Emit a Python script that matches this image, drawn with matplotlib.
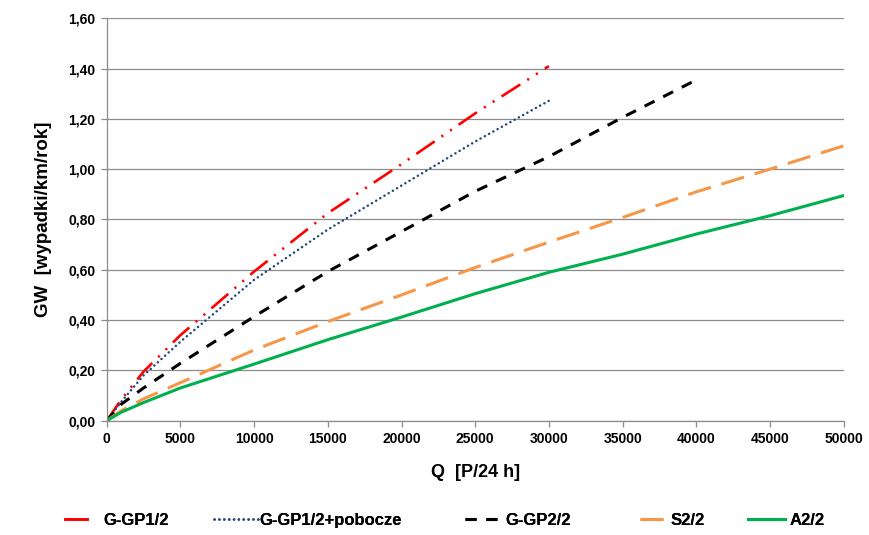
import matplotlib
matplotlib.use("Agg")
import matplotlib.pyplot as plt
from matplotlib.lines import Line2D
from matplotlib.ticker import FuncFormatter, MultipleLocator

plt.rcParams['font.family'] = ['Liberation Sans', 'DejaVu Sans']
plt.rcParams['font.weight'] = 'bold'
plt.rcParams['lines.scale_dashes'] = False

# Q [P/24 h] values
q_30 = [0, 1000, 2500, 5000, 10000, 15000, 20000, 25000, 30000]
q_40 = [0, 1000, 2500, 5000, 10000, 15000, 20000, 25000, 30000, 35000, 40000]
q_50 = [0, 1000, 2500, 5000, 10000, 15000, 20000, 25000, 30000, 35000, 40000, 45000, 50000]

ggp12 = [0, 0.085, 0.195, 0.34, 0.593, 0.825, 1.02, 1.222, 1.41]
ggp12_pob = [0, 0.076, 0.18, 0.314, 0.56, 0.76, 0.935, 1.11, 1.272]
ggp22 = [0, 0.066, 0.13, 0.228, 0.414, 0.593, 0.752, 0.912, 1.05, 1.206, 1.355]
s22 = [0, 0.04, 0.087, 0.151, 0.281, 0.394, 0.50, 0.609, 0.71, 0.808, 0.91, 1.0, 1.093]
a22 = [0, 0.034, 0.072, 0.13, 0.225, 0.322, 0.412, 0.505, 0.59, 0.662, 0.742, 0.815, 0.895]

labels = ['G-GP1/2', 'G-GP1/2+pobocze', 'G-GP2/2', 'S2/2', 'A2/2']

fig = plt.figure(figsize=(8.69, 5.35), dpi=100)
ax = fig.add_axes([0.1228, 0.2137, 0.8481, 0.7521])

lines = []
lines += ax.plot(q_30, ggp12, color='#FF0000', lw=1.9,
                 linestyle=(0, (16, 6, 1.5, 6, 1.5, 6)))
lines += ax.plot(q_30, ggp12_pob, color='#1F497D', lw=1.8,
                 linestyle=(0, (0.1, 3.4)), dash_capstyle='round')
lines += ax.plot(q_40, ggp22, color='#000000', lw=2.2, linestyle=(0, (8, 7)))
lines += ax.plot(q_50, s22, color='#F79646', lw=2.2, linestyle=(0, (17, 8)))
lines += ax.plot(q_50, a22, color='#00B050', lw=2.2)

ax.set_xlim(0, 50000)
ax.set_ylim(0, 1.6)
ax.xaxis.set_major_locator(MultipleLocator(5000))
ax.yaxis.set_major_locator(MultipleLocator(0.2))
ax.yaxis.set_major_formatter(FuncFormatter(lambda v, p: f'{v:.2f}'.replace('.', ',')))
ax.xaxis.set_major_formatter(FuncFormatter(lambda v, p: f'{int(round(v))}'))

ax.grid(axis='y', color='#8C8C8C', lw=0.9)
ax.set_axisbelow(True)
for s in ['top', 'right']:
    ax.spines[s].set_visible(False)
for s in ['left', 'bottom']:
    ax.spines[s].set_color('#8C8C8C')
    ax.spines[s].set_linewidth(0.9)
ax.tick_params(axis='both', colors='#8C8C8C', labelcolor='black', labelsize=10,
               length=4, width=0.9)
ax.tick_params(axis='y', pad=4)
ax.tick_params(axis='x', pad=4)
for lab in ax.get_xticklabels() + ax.get_yticklabels():
    lab.set_fontweight('bold')

ax.set_xlabel('Q  [P/24 h]', fontsize=13, fontweight='bold', labelpad=13)
ax.set_ylabel('GW  [wypadki/km/rok]', fontsize=13.5, fontweight='bold', labelpad=12)

# short red handle shows only the long dash, as in the original
handles = [Line2D([], [], color='#FF0000', lw=1.9)] + lines[1:]

# legend entries placed like the original (handle start in px, handle length, text pad)
leg_pos = [(65, 1.3, 1.0), (214, 2.65, 0.1), (465, 2.1, 0.3), (640, 1.4, 0.45), (748, 2.2, 0.3)]
for ln, lab, (px, hl, tp) in zip(handles, labels, leg_pos):
    lg = fig.legend([ln], [lab], loc='center left', bbox_to_anchor=(px / 869, 0.028),
                    frameon=False, borderpad=0, borderaxespad=0, handlelength=hl,
                    handletextpad=tp, prop={'weight': 'bold', 'size': 12})
    fig.add_artist(lg)

fig.savefig('out.png', dpi=100)
